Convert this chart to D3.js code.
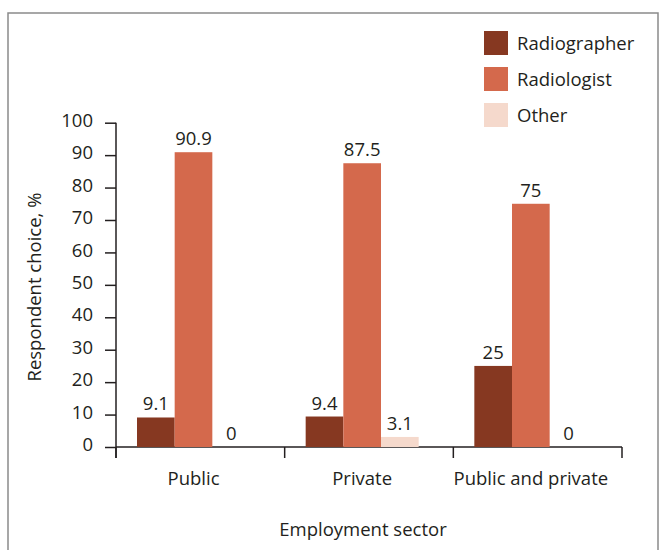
<!DOCTYPE html>
<html>
<head>
<meta charset="utf-8">
<script src="https://cdn.jsdelivr.net/npm/d3@7"></script>
<style>
  body { margin: 0; background: #fff; }
  svg text { font-family: "Open Sans", sans-serif; fill: #231f20; }
</style>
</head>
<body>
<svg id="chart" width="663" height="550"></svg>
<script>
// Data
var sectors = ["Public", "Private", "Public and private"];
var roles = ["Radiographer", "Radiologist", "Other"];
var radiographer = [9.1, 9.4, 25];
var radiologist = [90.9, 87.5, 75];
var other = [0, 3.1, 0];
var yTicks = [0, 10, 20, 30, 40, 50, 60, 70, 80, 90, 100];
var colours = ["#863821", "#d4694c", "#f5d9cc"];

var series = [radiographer, radiologist, other];
var fontSize = 18.5;
var svg = d3.select("#chart");

// frame round the figure
svg.append("rect")
	.attr("x", 8).attr("y", 13)
	.attr("width", 650).attr("height", 545)
	.attr("fill", "none")
	.attr("stroke", "#8a8a8a")
	.attr("stroke-width", 1.5);

var y = d3.scaleLinear().domain([0, 100]).range([447, 122.7]);
var x = d3.scaleBand().domain(sectors).range([116, 622]);
var xInner = d3.scaleBand().domain(roles).range([21, 134]);

// y axis
var yAxis = svg.append("g")
	.attr("transform", "translate(116,0)")
	.call(d3.axisLeft(y).tickValues(yTicks).tickSize(11).tickPadding(12));
yAxis.select(".domain").remove();
yAxis.selectAll("line").attr("stroke", "#231f20").attr("stroke-width", 1.5);
yAxis.selectAll("text").attr("font-size", fontSize).attr("dy", "0.2em");

svg.append("line")
	.attr("x1", 116).attr("x2", 116)
	.attr("y1", y(100)).attr("y2", y(0) + 11)
	.attr("stroke", "#231f20").attr("stroke-width", 1.5);

// x axis line and tick marks at band edges
svg.append("line")
	.attr("x1", 116).attr("x2", 622)
	.attr("y1", y(0)).attr("y2", y(0))
	.attr("stroke", "#231f20").attr("stroke-width", 1.5);

var edges = sectors.map(function(s) { return x(s); }).concat([x.range()[1]]);
svg.selectAll("line.xtick")
	.data(edges)
	.enter()
	.append("line")
	.classed("xtick", true)
	.attr("x1", function(d) { return d; })
	.attr("x2", function(d) { return d; })
	.attr("y1", y(0)).attr("y2", y(0) + 11)
	.attr("stroke", "#231f20").attr("stroke-width", 1.5);

// bars
var groups = svg.selectAll("g.sector")
	.data(sectors)
	.enter()
	.append("g")
	.classed("sector", true)
	.attr("transform", function(d) { return "translate(" + x(d) + ",0)"; });

groups.each(function(s, i) {
	var g = d3.select(this);
	roles.forEach(function(r, j) {
		var v = series[j][i];
		g.append("rect")
			.attr("x", xInner(r))
			.attr("y", y(v))
			.attr("width", xInner.bandwidth())
			.attr("height", y(0) - y(v))
			.attr("fill", colours[j]);
		g.append("text")
			.attr("x", xInner(r) + xInner.bandwidth() / 2)
			.attr("y", y(v) - 7)
			.attr("text-anchor", "middle")
			.attr("font-size", fontSize)
			.text(v);
	});
	// category label
	g.append("text")
		.attr("x", 21 + 113 / 2)
		.attr("y", 485)
		.attr("text-anchor", "middle")
		.attr("font-size", fontSize)
		.text(s);
});

// axis titles
svg.append("text")
	.attr("x", 363).attr("y", 536)
	.attr("text-anchor", "middle")
	.attr("font-size", fontSize)
	.text("Employment sector");

svg.append("text")
	.attr("transform", "translate(41,287) rotate(-90)")
	.attr("text-anchor", "middle")
	.attr("font-size", fontSize)
	.text("Respondent choice, %");

// legend
var legend = svg.selectAll("g.legend")
	.data(roles)
	.enter()
	.append("g")
	.classed("legend", true)
	.attr("transform", function(d, i) { return "translate(484," + (31 + i * 36) + ")"; });

legend.append("rect")
	.attr("width", 24).attr("height", 24)
	.attr("fill", function(d, i) { return colours[i]; });

legend.append("text")
	.attr("x", 33).attr("y", 19)
	.attr("font-size", fontSize)
	.text(function(d) { return d; });
</script>
</body>
</html>
